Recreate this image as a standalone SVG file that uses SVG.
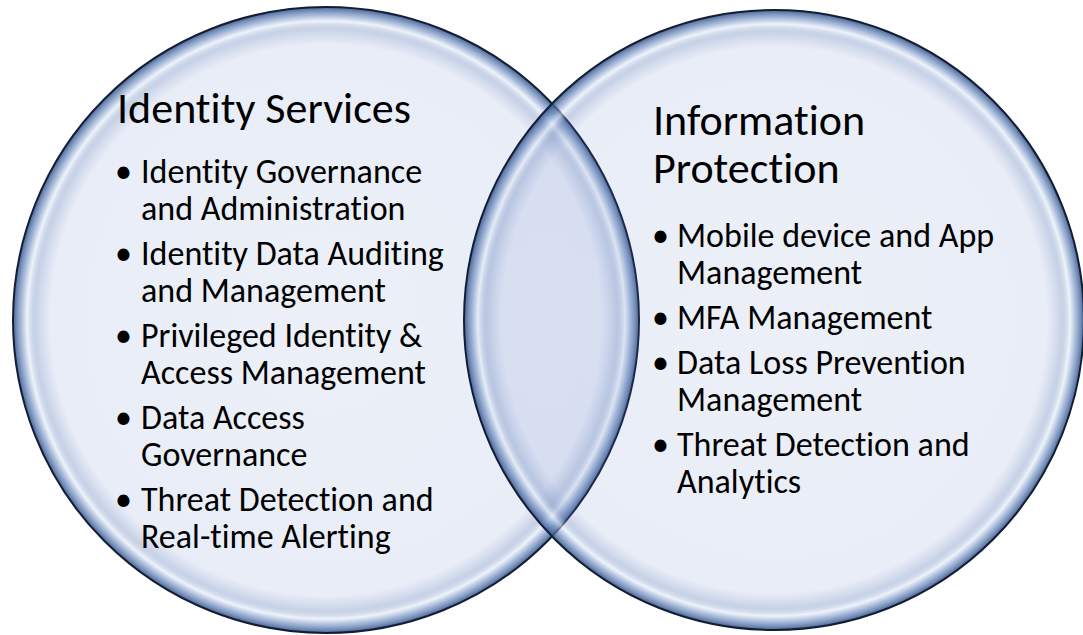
<svg xmlns="http://www.w3.org/2000/svg" width="1083" height="635" viewBox="0 0 1083 635">
<defs>
<radialGradient id="glass" cx="0.5" cy="0.5" r="0.5">
<stop offset="0" stop-color="#627fc6" stop-opacity="0.12"/>
<stop offset="0.88" stop-color="#627fc6" stop-opacity="0.14"/>
<stop offset="0.93" stop-color="#5b7ab5" stop-opacity="0.34"/>
<stop offset="0.955" stop-color="#e3ebf7" stop-opacity="0.6"/>
<stop offset="0.975" stop-color="#6d8cc0" stop-opacity="0.62"/>
<stop offset="1" stop-color="#2f4f88" stop-opacity="0.88"/>
</radialGradient>
<style>
.circ{fill:url(#glass);stroke:#141e33;stroke-width:2}
.title,.item{font-family:Carlito,Lato,"Noto Sans",sans-serif;fill:#000;font-variant-ligatures:none;font-feature-settings:"liga" 0,"clig" 0,"dlig" 0;letter-spacing:0.01px}
.title{font-size:44px}
.item{font-size:34px}
</style>
</defs>
<rect width="1083" height="635" fill="#ffffff"/>
<g id="node-identity-services">
<circle class="circ" cx="326" cy="320" r="313"/>
<text class="title" x="117" y="123">Identity Services</text>
<g class="item">
<text x="115" y="183">•</text><text x="141" y="183">Identity Governance</text>
<text x="141" y="220">and Administration</text>
<text x="115" y="265">•</text><text x="141" y="265">Identity Data Auditing</text>
<text x="141" y="302">and Management</text>
<text x="115" y="347">•</text><text x="141" y="347">Privileged Identity &amp;</text>
<text x="141" y="384">Access Management</text>
<text x="115" y="429">•</text><text x="141" y="429">Data Access</text>
<text x="141" y="466">Governance</text>
<text x="115" y="511">•</text><text x="141" y="511">Threat Detection and</text>
<text x="141" y="548">Real-time Alerting</text>
</g>
</g>
<g id="node-information-protection">
<circle class="circ" cx="774" cy="320" r="310"/>
<text class="title" x="653" y="135">Information</text>
<text class="title" x="653" y="183">Protection</text>
<g class="item">
<text x="652" y="247">•</text><text x="677" y="247">Mobile device and App</text>
<text x="677" y="284">Management</text>
<text x="652" y="329">•</text><text x="677" y="329">MFA Management</text>
<text x="652" y="374">•</text><text x="677" y="374">Data Loss Prevention</text>
<text x="677" y="411">Management</text>
<text x="652" y="456">•</text><text x="677" y="456">Threat Detection and</text>
<text x="677" y="493">Analytics</text>
</g>
</g>
<g id="connectors"/>
</svg>
